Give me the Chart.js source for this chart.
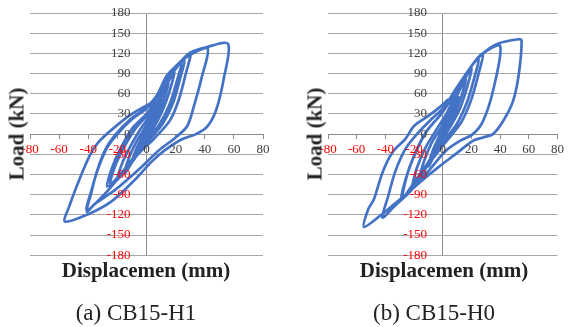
<!DOCTYPE html>
<html>
<head>
<meta charset="utf-8">
<script src="https://cdn.jsdelivr.net/npm/chart.js@4.4.1/dist/chart.umd.min.js"></script>
<style>
  body { margin: 0; background: #fff; width: 568px; height: 327px; position: relative; overflow: hidden; font-family: "Liberation Serif", "Times New Roman", serif; color: #222; }
  .panel { position: absolute; top: 0; width: 284px; height: 327px; }
  .panel canvas { position: absolute; left: 0; top: 0; }
  .ytitle { position: absolute; top: 134px; font-weight: bold; font-size: 21px; line-height: 21px; white-space: nowrap; transform: translate(-50%, -50%) rotate(-90deg); }
  .xtitle { position: absolute; top: 260px; font-weight: bold; font-size: 21px; line-height: 21px; white-space: nowrap; transform: translateX(-50%); }
  .caption { position: absolute; top: 301px; font-size: 23px; line-height: 23px; white-space: nowrap; transform: translateX(-50%); }
</style>
</head>
<body>
<div class="panel" style="left:0">
  <canvas id="chartH1" width="284" height="270" style="width:284px;height:270px"></canvas>
  <div class="ytitle" style="left:17px">Load (kN)</div>
  <div class="xtitle" style="left:146px">Displacemen (mm)</div>
  <div class="caption" style="left:136px">(a) CB15-H1</div>
</div>
<div class="panel" style="left:284px">
  <canvas id="chartH0" width="284" height="270" style="width:284px;height:270px"></canvas>
  <div class="ytitle" style="left:31px">Load (kN)</div>
  <div class="xtitle" style="left:160px">Displacemen (mm)</div>
  <div class="caption" style="left:150px">(b) CB15-H0</div>
</div>
<script>
// tick labels
const dispTicks = [-80, -60, -40, -20, 0, 20, 40, 60, 80];
const loadTicks = [-180, -150, -120, -90, -60, -30, 0, 30, 60, 90, 120, 150, 180];

// CB15-H1 hysteresis (mm / kN)
const h1Disp = [0, 3, 6, 4, 1, -2, -5, -3, 0,
  4, 8, 11, 8, 4, 0, -5, -10, -7, -3, 1,
  6, 11, 15, 12, 8, 3, -4, -10, -15, -12, -7, -1,
  5, 12, 19, 16, 11, 5, -4, -12, -20, -17, -11, -4, 3,
  10, 17, 24, 21, 16, 9, 0, -10, -18, -25, -22, -15, -7, 2,
  10, 18, 26, 23, 18, 11, 2, -9, -18, -27, -24, -18, -10, 0,
  9, 18, 30, 27, 22, 16, 6, -5, -18, -30, -41, -38, -33, -27, -20, -10, 0,
  10, 20, 30, 42, 38, 33, 28, 20, 8, -4, -21, -35, -41, -38, -34, -28, -21, -11, 0,
  7, 14, 23, 30, 41, 56, 53, 48, 42, 34, 24, 12, 3, -8, -24, -40, -56, -53, -46, -39, -33, -22, -10, 2];
const h1Load = [0, 15, 28, 14, 0, -12, -24, -10, 3,
  20, 38, 50, 32, 12, -5, -25, -42, -22, -5, 10,
  35, 58, 75, 52, 28, 5, -20, -42, -58, -35, -12, 10,
  38, 66, 92, 65, 35, 10, -18, -45, -68, -45, -18, 8, 30,
  60, 88, 106, 80, 45, 15, -10, -38, -60, -76, -50, -18, 10, 32,
  62, 92, 110, 82, 45, 15, -8, -35, -60, -78, -52, -22, 8, 30,
  58, 92, 120, 90, 50, 20, -5, -28, -62, -92, -113, -85, -50, -20, 0, 22, 38,
  65, 100, 118, 127, 85, 45, 12, -5, -25, -50, -82, -103, -115, -88, -55, -22, 0, 22, 40,
  57, 87, 107, 121, 129, 134, 82, 37, 12, 0, -8, -25, -42, -68, -100, -119, -130, -107, -67, -32, -12, 10, 30, 45];

// CB15-H0 hysteresis
const h0Disp = [0, 3, 6, 4, 1, -2, -5, -3, 0,
  4, 8, 11, 8, 4, 0, -5, -10, -7, -3, 1,
  6, 11, 16, 13, 8, 3, -4, -11, -16, -13, -8, -1,
  6, 13, 20, 17, 12, 5, -4, -13, -21, -18, -12, -4, 3,
  10, 18, 25, 22, 17, 10, 0, -11, -20, -28, -25, -19, -11, -1,
  9, 19, 28, 25, 20, 13, 2, -10, -20, -29, -26, -20, -12, -2,
  8, 17, 27, 40, 35, 28, 21, 12, 2, -10, -24, -34, -42, -38, -33, -26, -18, -8, 1,
  7, 17, 26, 38, 53, 55, 53, 49, 42, 35, 28, 21, 10, -3, -14, -24, -36, -44, -55, -52, -48, -42, -35, -26, -20, -10, -1, 4];
const h0Load = [0, 18, 30, 14, 0, -12, -25, -10, 4,
  22, 40, 55, 35, 12, -6, -28, -48, -25, -6, 12,
  38, 62, 82, 56, 28, 5, -22, -48, -66, -40, -14, 10,
  42, 72, 98, 70, 38, 10, -20, -52, -78, -50, -20, 8, 32,
  62, 95, 112, 84, 48, 16, -12, -45, -72, -95, -62, -28, 5, 30,
  62, 98, 120, 90, 52, 18, -12, -45, -75, -98, -68, -32, 2, 28,
  58, 92, 118, 131, 64, 19, 0, -10, -25, -55, -88, -108, -124, -92, -55, -22, 0, 22, 40,
  60, 92, 116, 134, 141, 139, 89, 49, 19, 0, -5, -10, -28, -49, -68, -87, -108, -122, -138, -112, -97, -57, -27, -7, 12, 27, 42, 52];

const tickFont = { family: "'Liberation Serif', 'Times New Roman', serif", size: 13 };
const tickColor = ctx => (ctx.tick && ctx.tick.value < 0) ? '#ff0000' : '#404040';
const axisGray = '#8c8c8c';

// plot area wanted on the page (y: 180 -> 13px, -180 -> 255px)
const AREA_TOP = 13, AREA_BOTTOM = 255;

function makeChart(canvas, disp, load, padLeft, padRight) {
  const points = disp.map((x, i) => ({ x: x, y: load[i] }));
  return new Chart(canvas, {
    type: 'scatter',
    data: {
      datasets: [{
        data: points,
        showLine: true,
        borderColor: '#4472c4',
        borderWidth: 2.7,
        pointRadius: 0,
        tension: 0.3,
        fill: false
      }]
    },
    options: {
      responsive: false,
      animation: false,
      layout: { padding: { left: padLeft, right: padRight, top: 13, bottom: 7 } },
      plugins: { legend: { display: false }, tooltip: { enabled: false } },
      scales: {
        x: {
          type: 'linear',
          position: { y: 0 },
          min: -80, max: 80,
          afterBuildTicks: scale => { scale.ticks = dispTicks.map(v => ({ value: v })); },
          // only the zero line is drawn across the plot (the vertical axis)
          grid: {
            drawOnChartArea: true,
            drawTicks: true,
            tickLength: 4,
            color: ctx => (ctx.tick && ctx.tick.value === 0) ? axisGray : 'rgba(0,0,0,0)',
            tickColor: axisGray
          },
          border: { color: axisGray },
          ticks: { font: tickFont, color: tickColor, padding: 4, maxRotation: 0, autoSkip: false, z: 1 }
        },
        y: {
          type: 'linear',
          // labels sit a little left of the zero line
          position: { x: -11 },
          min: -180, max: 180,
          afterBuildTicks: scale => { scale.ticks = loadTicks.map(v => ({ value: v })); },
          grid: { color: '#a6a6a6', drawTicks: false },
          border: { display: false },
          ticks: { font: tickFont, color: tickColor, padding: 0, autoSkip: false, z: 1 }
        }
      }
    }
  });
}

// build, measure the plot area, then resize/shift the canvas so the area lands where it should
function buildChart(id, disp, load, padLeft, padRight) {
  const canvas = document.getElementById(id);
  let chart = makeChart(canvas, disp, load, padLeft, padRight);
  for (let k = 0; k < 3; k++) {
    const ca = chart.chartArea;
    const h = chart.height;
    const newH = Math.round(h + (AREA_BOTTOM - AREA_TOP) - (ca.bottom - ca.top));
    const offset = AREA_TOP - ca.top;
    chart.destroy();
    canvas.width = 284;
    canvas.height = newH;
    canvas.style.width = '284px';
    canvas.style.height = newH + 'px';
    canvas.style.top = offset + 'px';
    chart = makeChart(canvas, disp, load, padLeft, padRight);
  }
  const ca = chart.chartArea;
  canvas.style.top = (AREA_TOP - ca.top) + 'px';
  return chart;
}

buildChart('chartH1', h1Disp, h1Load, 30, 21);
buildChart('chartH0', h0Disp, h0Load, 44, 6);
</script>
</body>
</html>
